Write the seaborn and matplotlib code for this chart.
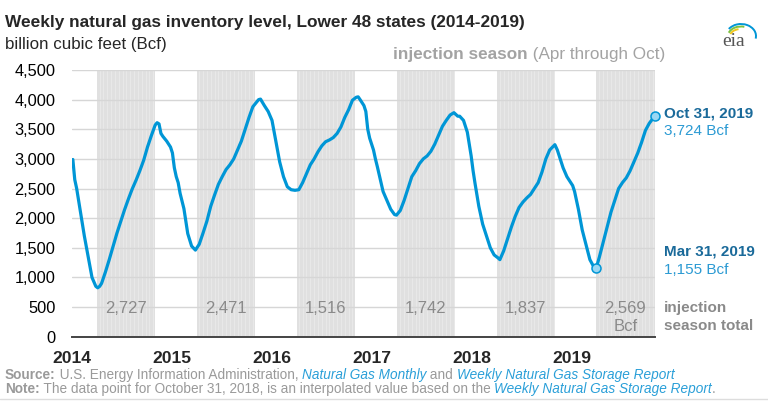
import pandas as pd
import matplotlib.pyplot as plt
import matplotlib.dates as mdates
from matplotlib.patches import Arc
import seaborn as sns

# --- Data ---
dates = [
    '2014-01-03', '2014-01-10', '2014-01-17', '2014-01-24', '2014-01-31', '2014-02-14', '2014-02-28',
    '2014-03-14', '2014-03-28', '2014-04-04', '2014-04-11', '2014-04-18', '2014-05-02', '2014-05-16',
    '2014-05-30', '2014-06-13', '2014-06-27', '2014-07-11', '2014-07-25', '2014-08-08', '2014-08-22',
    '2014-09-05', '2014-09-19', '2014-10-03', '2014-10-17', '2014-10-31', '2014-11-07', '2014-11-14',
    '2014-11-21', '2014-11-28', '2014-12-12', '2014-12-26',
    '2015-01-02', '2015-01-09', '2015-01-16', '2015-01-23', '2015-01-30', '2015-02-13', '2015-02-27',
    '2015-03-13', '2015-03-27', '2015-04-10', '2015-04-24', '2015-05-08', '2015-05-22', '2015-06-05',
    '2015-06-19', '2015-07-03', '2015-07-17', '2015-07-31', '2015-08-14', '2015-08-28', '2015-09-11',
    '2015-09-25', '2015-10-09', '2015-10-23', '2015-11-06', '2015-11-13', '2015-11-20', '2015-12-04',
    '2015-12-18',
    '2016-01-01', '2016-01-15', '2016-01-29', '2016-02-12', '2016-02-26', '2016-03-11', '2016-03-25',
    '2016-04-08', '2016-04-22', '2016-05-06', '2016-05-20', '2016-06-03', '2016-06-17', '2016-07-01',
    '2016-07-15', '2016-07-29', '2016-08-12', '2016-08-26', '2016-09-09', '2016-09-23', '2016-10-07',
    '2016-10-21', '2016-11-04', '2016-11-11', '2016-11-18', '2016-12-02', '2016-12-09', '2016-12-16',
    '2016-12-23', '2016-12-30',
    '2017-01-06', '2017-01-13', '2017-01-20', '2017-01-27', '2017-02-10', '2017-02-24', '2017-03-10',
    '2017-03-24', '2017-03-31', '2017-04-14', '2017-04-28', '2017-05-12', '2017-05-26', '2017-06-09',
    '2017-06-23', '2017-07-07', '2017-07-21', '2017-08-04', '2017-08-18', '2017-09-01', '2017-09-15',
    '2017-09-29', '2017-10-13', '2017-10-27', '2017-11-10', '2017-11-17', '2017-12-01', '2017-12-15',
    '2017-12-29',
    '2018-01-05', '2018-01-12', '2018-01-19', '2018-01-26', '2018-02-09', '2018-02-23', '2018-03-09',
    '2018-03-23', '2018-04-06', '2018-04-13', '2018-04-27', '2018-05-11', '2018-05-25', '2018-06-08',
    '2018-06-22', '2018-07-06', '2018-07-20', '2018-08-03', '2018-08-17', '2018-08-31', '2018-09-14',
    '2018-09-28', '2018-10-12', '2018-10-31', '2018-11-09', '2018-11-16', '2018-11-30', '2018-12-14',
    '2018-12-28',
    '2019-01-04', '2019-01-11', '2019-01-25', '2019-02-08', '2019-02-22', '2019-03-08', '2019-03-22',
    '2019-03-31', '2019-04-12', '2019-04-26', '2019-05-10', '2019-05-24', '2019-06-07', '2019-06-21',
    '2019-07-05', '2019-07-19', '2019-08-02', '2019-08-16', '2019-08-30', '2019-09-13', '2019-09-27',
    '2019-10-11', '2019-10-31',
]
storage_bcf = [
    2990, 2650, 2500, 2300, 2100, 1700, 1350,
    1000, 850, 825, 850, 900, 1090, 1300,
    1525, 1745, 1946, 2142, 2322, 2492, 2640,
    2802, 2978, 3202, 3393, 3571, 3611, 3590,
    3430, 3380, 3300, 3200,
    3100, 2850, 2700, 2600, 2420, 2160, 1740,
    1530, 1461, 1560, 1750, 1950, 2200, 2390,
    2570, 2700, 2820, 2900, 3000, 3150, 3300,
    3500, 3700, 3880, 3960, 4000, 4009, 3900,
    3800,
    3650, 3300, 2950, 2700, 2530, 2480, 2470,
    2480, 2600, 2750, 2900, 3000, 3120, 3220,
    3290, 3320, 3360, 3430, 3540, 3700, 3830,
    3990, 4040, 4047, 4000, 3900, 3800, 3500,
    3350, 3250,
    3150, 3000, 2870, 2730, 2450, 2300, 2150,
    2060, 2051, 2130, 2300, 2500, 2700, 2800,
    2920, 3000, 3050, 3130, 3250, 3400, 3550,
    3650, 3740, 3780, 3720, 3720, 3650, 3450,
    3050,
    2800, 2590, 2400, 2200, 1900, 1700, 1500,
    1380, 1330, 1300, 1450, 1650, 1850, 2030,
    2180, 2270, 2340, 2400, 2500, 2600, 2780,
    3000, 3150, 3240, 3150, 3050, 2850, 2700,
    2600,
    2550, 2450, 2150, 1800, 1550, 1300, 1180,
    1155, 1350, 1600, 1850, 2100, 2300, 2500,
    2600, 2680, 2800, 2950, 3100, 3280, 3480,
    3600, 3724,
]
season_years = [2014, 2015, 2016, 2017, 2018, 2019]
season_totals = ['2,727', '2,471', '1,516', '1,742', '1,837', '2,569']

df = pd.DataFrame({'date': pd.to_datetime(dates), 'storage': storage_bcf})

BLUE = '#0096d6'
DARK_BLUE = '#1a6a9a'
GRAY_TXT = '#8a8a8a'

sns.set_style('white')
plt.rcParams['font.family'] = ['Liberation Sans', 'DejaVu Sans']

W, H = 768, 401
fig = plt.figure(figsize=(W / 100, H / 100), dpi=100)


def fx(px):
    return px / W


def fy(py):
    return 1 - py / H


ax = fig.add_axes([fx(72.3), fy(336.7), fx(655) - fx(72.3), fy(70) - fy(336.7)])

# injection season shading (Apr through Oct), with faint weekly stripes
for yr in season_years:
    start, end = pd.Timestamp(f'{yr}-04-01'), pd.Timestamp(f'{yr}-10-31')
    ax.axvspan(start, end, color='#e0e0e0', lw=0, zorder=0.2)
    for wk in pd.date_range(start, end, freq='W-FRI')[1::2]:
        ax.axvline(wk, color='#eaeaea', lw=0.6, zorder=0.3)

sns.lineplot(data=df, x='date', y='storage', ax=ax, color=BLUE, lw=2.3, zorder=3)

# highlighted points
hl = df[df['date'].isin(pd.to_datetime(['2019-03-31', '2019-10-31']))]
ax.scatter(hl['date'], hl['storage'], s=42, color='#9ad7f3', edgecolor=BLUE,
           linewidth=1.1, zorder=4, clip_on=False)

ax.set_ylim(0, 4500)
ax.set_xlim(pd.Timestamp('2014-01-01'), pd.Timestamp('2019-11-01'))
ax.set_yticks(range(0, 4501, 500))
ax.set_yticklabels([f'{v:,}' for v in range(0, 4501, 500)])
ax.grid(axis='y', color='#d6d6d6', lw=1.0)
ax.set_axisbelow(True)
ax.xaxis.set_major_locator(mdates.YearLocator())
ax.xaxis.set_major_formatter(mdates.DateFormatter('%Y'))
ax.set_xlabel('')
ax.set_ylabel('')

for side in ['top', 'right', 'left']:
    ax.spines[side].set_visible(False)
ax.spines['bottom'].set_color('#444444')
ax.spines['bottom'].set_linewidth(1.4)
ax.tick_params(axis='y', length=0, pad=12, labelsize=11.8, labelcolor='black')
ax.tick_params(axis='x', length=5, width=1.2, color='#444444', direction='out',
               pad=5, labelsize=12.6)
for lab in ax.get_xticklabels():
    lab.set_fontweight('bold')

# season totals
for yr, tot in zip(season_years, season_totals):
    ax.text(pd.Timestamp(f'{yr}-07-16'), 480, tot, ha='center', va='center',
            fontsize=12, color=GRAY_TXT, zorder=5)
ax.text(pd.Timestamp('2019-07-18'), 180, 'Bcf', ha='center', va='center',
        fontsize=12, color=GRAY_TXT, zorder=5)

# titles
fig.text(fx(5), fy(23), 'Weekly natural gas inventory level, Lower 48 states (2014-2019)',
         fontsize=12.4, fontweight='bold', va='center', ha='left')
fig.text(fx(5), fy(44), 'billion cubic feet (Bcf)', fontsize=12.2, va='center', ha='left')

renderer = fig.canvas.get_renderer()


def run_text(x_px, y_px, parts, size):
    # write text pieces of different styles one after the other
    x = x_px
    for txt, kw in parts:
        t = fig.text(fx(x), fy(y_px), txt, fontsize=size, va='center', ha='left', **kw)
        bb = t.get_window_extent(renderer=renderer)
        x += bb.width


run_text(393, 55, [('injection season', dict(color='#a3a3a3', fontweight='bold')),
                   (' (Apr through Oct)', dict(color='#a3a3a3'))], 12.3)

# right-side annotations
fig.text(fx(664), fy(113), 'Oct 31, 2019', fontsize=11, fontweight='bold',
         color=DARK_BLUE, va='center')
fig.text(fx(664), fy(131), '3,724 Bcf', fontsize=11, color='#2b9ad3', va='center')
fig.text(fx(664), fy(252), 'Mar 31, 2019', fontsize=11, fontweight='bold',
         color=DARK_BLUE, va='center')
fig.text(fx(664), fy(270), '1,155 Bcf', fontsize=11, color='#2b9ad3', va='center')
fig.text(fx(664), fy(308), 'injection', fontsize=11, fontweight='bold',
         color='#8a8a8a', va='center')
fig.text(fx(664), fy(326), 'season total', fontsize=11, fontweight='bold',
         color='#8a8a8a', va='center')

# footer
FOOT = '#9a9a9a'
LINK = '#2a9fd8'
run_text(5, 375, [('Source:', dict(color=FOOT, fontweight='bold')),
                  (' U.S. Energy Information Administration, ', dict(color=FOOT)),
                  ('Natural Gas Monthly', dict(color=LINK, style='italic')),
                  (' and ', dict(color=FOOT)),
                  ('Weekly Natural Gas Storage Report', dict(color=LINK, style='italic'))], 9.85)
run_text(5, 389, [('Note:', dict(color=FOOT, fontweight='bold')),
                  (' The data point for October 31, 2018, is an interpolated value based on the ',
                   dict(color=FOOT)),
                  ('Weekly Natural Gas Storage Report', dict(color=LINK, style='italic')),
                  ('.', dict(color=FOOT))], 9.85)
fig.add_artist(plt.Line2D([fx(0), fx(768)], [fy(399), fy(399)], color='#dddddd', lw=1))

# eia logo: text plus three swoosh arcs, drawn in a pixel-scaled inset
fig.text(fx(734), fy(42), 'eia', fontsize=14, family='Liberation Serif', color='#555555',
         ha='center', va='center')
lax = fig.add_axes([fx(722), fy(44), fx(758) - fx(722), fy(20) - fy(44)])
lax.set_xlim(722, 758)
lax.set_ylim(-44, -20)
lax.axis('off')
for (rx, ry, t1, t2, c) in [(11, 7, 110, 170, '#f2c71b'), (13, 9.5, 70, 165, '#7cc242'),
                            (15, 12, -10, 150, '#0096d6')]:
    lax.add_patch(Arc((741, -36), 2 * rx, 2 * ry, theta1=t1, theta2=t2, color=c, lw=1.4))

fig.savefig('out.png', dpi=100)
